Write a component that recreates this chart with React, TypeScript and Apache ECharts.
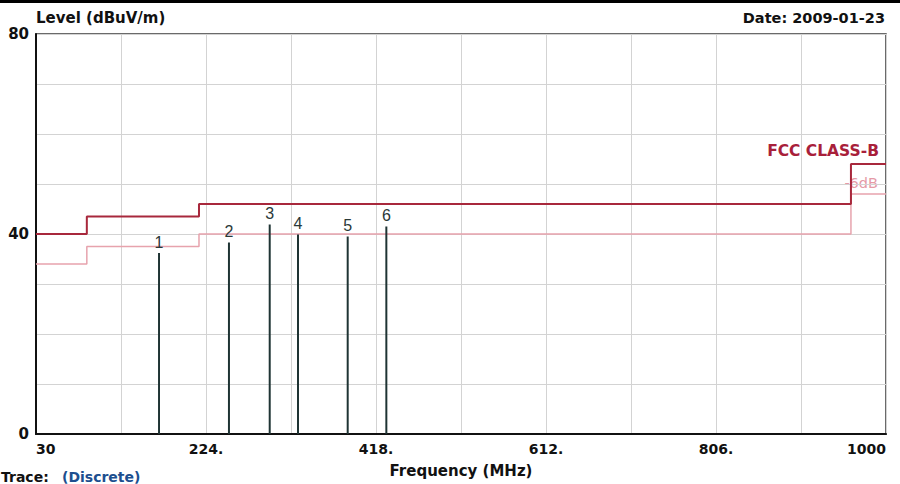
import React, { useEffect, useRef } from "react";
import * as echarts from "echarts";

// Frequency axis (MHz)
const xMin = 30;
const xMax = 1000;
const xStep = 97;
const xTickLabels: Record<number, string> = {
  30: "30",
  224: "224.",
  418: "418.",
  612: "612.",
  806: "806.",
  1000: "1000",
};
// Level axis (dBuV/m)
const yMin = 0;
const yMax = 80;
const yStep = 10;
const yTickLabels: Record<number, string> = { 0: "0", 40: "40", 80: "80" };

// FCC Class-B limit steps (frequency breakpoints, level from each breakpoint on)
const limitFreqs = [30, 88, 216, 960, 1000];
const limitLevels = [40, 43.5, 46, 54, 54];
const marginLevels = [34, 37.5, 40, 48, 48];

// Discrete measured markers
const markerIds = ["1", "2", "3", "4", "5", "6"];
const markerFreqs = [170.4, 250.2, 296.7, 329.0, 385.7, 429.8];
const markerLevels = [36.2, 38.3, 41.9, 39.9, 39.5, 41.5];

const limitColor = "#a8283c";
const marginColor = "#e7a3ad";
const markerColor = "#1f3434";
const boldFont = "DejaVu Sans";

export default function App() {
  const ref = useRef<HTMLDivElement>(null);

  useEffect(() => {
    if (!ref.current) return;
    const chart = echarts.init(ref.current, null, { renderer: "svg" });

    const limitData = limitFreqs.map((f, i) => [f, limitLevels[i]]);
    const marginData = limitFreqs.map((f, i) => [f, marginLevels[i]]);
    const markerData = markerFreqs.map((f, i) => ({
      value: [f, markerLevels[i]],
      name: markerIds[i],
    }));

    chart.setOption({
      animation: false,
      backgroundColor: "#ffffff",
      grid: {
        left: 36,
        right: 14,
        top: 34,
        bottom: 50,
        containLabel: false,
        outerBoundsMode: "none",
        show: true,
        borderColor: "#3a3a3a",
        borderWidth: 1.5,
        backgroundColor: "transparent",
      },
      xAxis: {
        type: "value",
        min: xMin,
        max: xMax,
        interval: xStep,
        name: "Frequency (MHz)",
        nameLocation: "middle",
        nameGap: 29,
        nameTextStyle: {
          fontFamily: boldFont,
          fontWeight: "bold",
          fontSize: 15,
          color: "#111",
        },
        axisLine: { show: true, lineStyle: { color: "#111", width: 2 } },
        axisTick: { show: false },
        splitLine: { show: true, lineStyle: { color: "#d3d3d3", width: 1 } },
        axisLabel: {
          show: true,
          margin: 8,
          fontFamily: boldFont,
          fontWeight: "bold",
          fontSize: 14,
          color: "#111",
          alignMinLabel: "left",
          alignMaxLabel: "right",
          formatter: (v: number) => xTickLabels[Math.round(v)] ?? "",
        },
      },
      yAxis: {
        type: "value",
        min: yMin,
        max: yMax,
        interval: yStep,
        axisLine: { show: true, lineStyle: { color: "#111", width: 2 } },
        axisTick: { show: false },
        splitLine: { show: true, lineStyle: { color: "#d3d3d3", width: 1 } },
        axisLabel: {
          show: true,
          margin: 7,
          fontFamily: boldFont,
          fontWeight: "bold",
          fontSize: 15,
          color: "#111",
          formatter: (v: number) => yTickLabels[Math.round(v)] ?? "",
        },
      },
      series: [
        {
          type: "line",
          name: "-6dB",
          data: marginData,
          step: "end",
          symbol: "none",
          lineStyle: { color: marginColor, width: 1.5 },
          z: 3,
        },
        {
          type: "line",
          name: "FCC CLASS-B",
          data: limitData,
          step: "end",
          symbol: "none",
          lineStyle: { color: limitColor, width: 2 },
          z: 4,
        },
        {
          type: "bar",
          name: "Discrete",
          data: markerData,
          barWidth: 2,
          itemStyle: { color: markerColor },
          label: {
            show: true,
            position: "top",
            distance: 3,
            formatter: (p: any) => p.name,
            fontFamily: "Liberation Sans",
            fontSize: 16,
            color: "#2a3838",
          },
          z: 5,
        },
      ],
      graphic: [
        {
          type: "rect",
          shape: { x: 0, y: 0, width: 900, height: 3 },
          style: { fill: "#000" },
        },
        {
          type: "text",
          x: 36,
          y: 18,
          style: {
            text: "Level (dBuV/m)",
            fontFamily: boldFont,
            fontWeight: "bold",
            fontSize: 15,
            fill: "#111",
            align: "left",
            verticalAlign: "middle",
          },
        },
        {
          type: "text",
          x: 885,
          y: 18,
          style: {
            text: "Date: 2009-01-23",
            fontFamily: boldFont,
            fontWeight: "bold",
            fontSize: 14.5,
            fill: "#111",
            align: "right",
            verticalAlign: "middle",
          },
        },
        {
          type: "text",
          x: 879,
          y: 151,
          style: {
            text: "FCC CLASS-B",
            fontFamily: boldFont,
            fontWeight: "bold",
            fontSize: 15.5,
            fill: "#a8203a",
            align: "right",
            verticalAlign: "middle",
          },
        },
        {
          type: "text",
          x: 878,
          y: 183,
          style: {
            text: "-6dB",
            fontFamily: boldFont,
            fontSize: 14.5,
            fill: "#e59aa6",
            align: "right",
            verticalAlign: "middle",
          },
        },
        {
          type: "text",
          x: 1,
          y: 477,
          style: {
            text: "Trace:",
            fontFamily: boldFont,
            fontWeight: "bold",
            fontSize: 14,
            fill: "#111",
            align: "left",
            verticalAlign: "middle",
          },
        },
        {
          type: "text",
          x: 62,
          y: 477,
          style: {
            text: "(Discrete)",
            fontFamily: boldFont,
            fontWeight: "bold",
            fontSize: 14,
            fill: "#1d4f8f",
            align: "left",
            verticalAlign: "middle",
          },
        },
      ],
    });

    return () => chart.dispose();
  }, []);

  return (
    <div
      ref={ref}
      style={{ position: "absolute", left: 0, top: 0, width: 900, height: 484 }}
    />
  );
}
